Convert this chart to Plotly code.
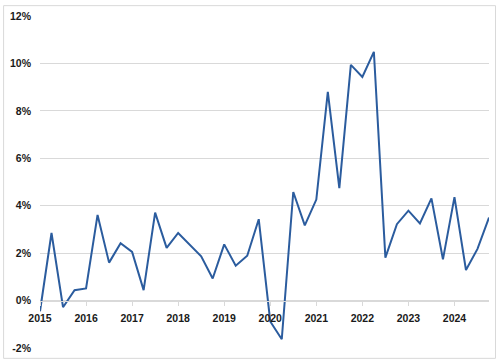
import plotly.graph_objects as go

years = [2015, 2016, 2017, 2018, 2019, 2020, 2021, 2022, 2023, 2024]
quarter_names = ["Q1", "Q2", "Q3", "Q4"]
values = [
    -0.45, 2.85, -0.28, 0.44,
    0.51, 3.61, 1.60, 2.42,
    2.05, 0.44, 3.71, 2.22,
    2.85, 2.36, 1.87, 0.93,
    2.37, 1.47, 1.89, 3.43,
    -0.88, -1.63, 4.58, 3.17,
    4.26, 8.80, 4.74, 9.94,
    9.43, 10.49, 1.81, 3.22,
    3.79, 3.25, 4.31, 1.74,
    4.36, 1.29, 2.18, 3.50,
]
y_ticks = [-2, 0, 2, 4, 6, 8, 10, 12]
y_ticktext = ["-2%", "0%", "2%", "4%", "6%", "8%", "10%", "12%"]

categories = [f"{y} {q}" for y in years for q in quarter_names]
year_ticks = [f"{y} Q1" for y in years]
year_text = [str(y) for y in years]

grid = "#D9D9D9"
font = dict(family="Liberation Sans", size=10.5, color="#1a1a1a", weight="bold")

fig = go.Figure()
fig.add_trace(go.Scatter(
    x=categories, y=values, mode="lines",
    line=dict(color="#2B5C9E", width=2),
    hoverinfo="x+y",
))

fig.update_layout(
    width=499, height=364,
    margin=dict(l=39, r=10, t=13, b=14),
    paper_bgcolor="white", plot_bgcolor="white",
    showlegend=False,
    xaxis=dict(
        type="category", range=[0, len(categories) - 1],
        anchor="free", position=2 / 14,
        showgrid=False, zeroline=False,
        showline=True, linecolor=grid, linewidth=1,
        ticks="outside", ticklen=4, tickcolor=grid,
        tickvals=year_ticks, ticktext=year_text,
        tickfont=font, ticklabelstandoff=4,
    ),
    yaxis=dict(
        range=[-2, 12], tickvals=y_ticks, ticktext=y_ticktext,
        showgrid=True, gridcolor=grid, gridwidth=1,
        zeroline=False, showline=False,
        ticks="", ticklabelstandoff=8,
        tickfont=font,
    ),
    shapes=[dict(
        type="rect", xref="paper", yref="paper",
        x0=(2.5 - 39) / 450, x1=(495.5 - 39) / 450,
        y0=(350 - 360.5) / 337, y1=(350 - 2.5) / 337,
        line=dict(color=grid, width=1), fillcolor="rgba(0,0,0,0)",
        layer="above",
    )],
)

fig.write_html(
    "out.html",
    config={"displayModeBar": False},
    post_script="document.body.style.margin='0';document.body.style.overflow='hidden';",
)
